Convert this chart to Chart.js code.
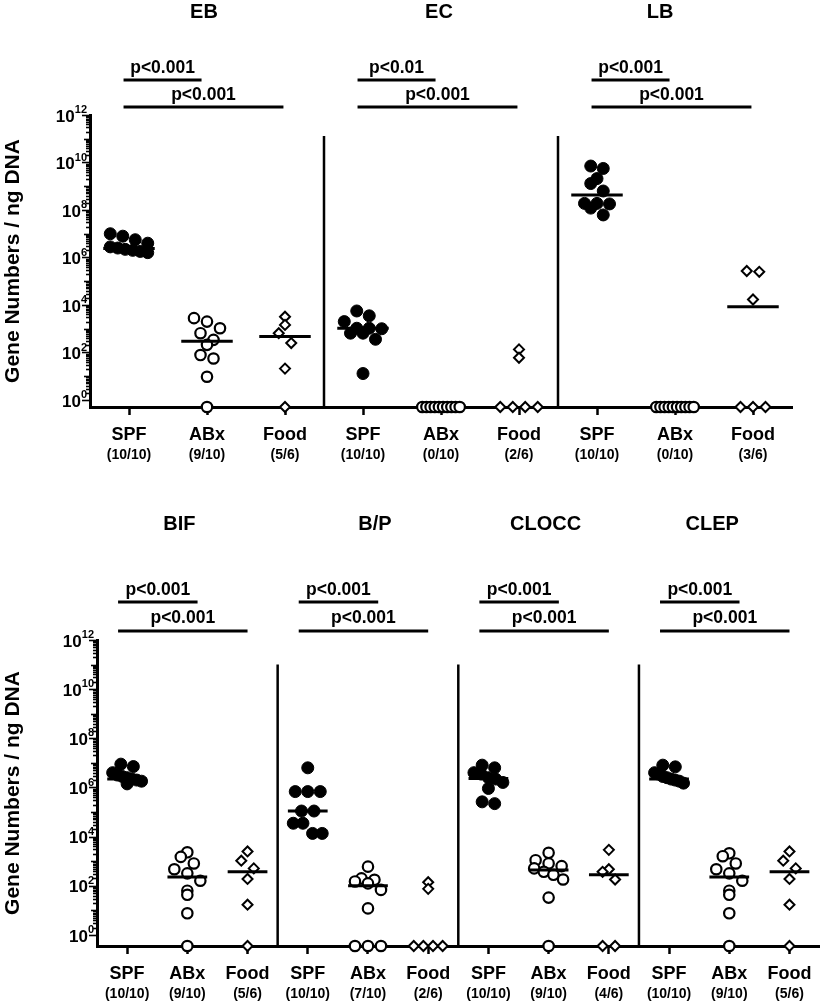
<!DOCTYPE html>
<html>
<head>
<meta charset="utf-8">
<script src="https://cdn.jsdelivr.net/npm/chart.js@4.4.0/dist/chart.umd.min.js"></script>
<style>
  html, body { margin: 0; padding: 0; background: #fff; }
  #wrap { position: relative; width: 827px; height: 1006px; }
  .row { position: absolute; left: 0; width: 827px; }
  #rowTop { top: 0; height: 470px; }
  #rowBottom { top: 500px; height: 506px; }
</style>
</head>
<body>
<div id="wrap">
  <div class="row" id="rowTop"><canvas id="chartTop"></canvas></div>
  <div class="row" id="rowBottom"><canvas id="chartBottom"></canvas></div>
</div>
<script>
// gene numbers / ng DNA; 0 = not detected (drawn on the axis)
const groups = ['SPF', 'ABx', 'Food'];

const ebSPF  = [1.0e7, 7.9e6, 5.6e6, 4.0e6, 2.8e6, 2.5e6, 2.2e6, 2.0e6, 1.8e6, 1.6e6];
const ebABx  = [2800, 2000, 1050, 650, 340, 210, 78, 56, 9.5, 0];
const ebFood = [3200, 1450, 650, 250, 21, 0];
const ebMedian = [2.4e6, 300, 470];

const ecSPF  = [5600, 3500, 2000, 1050, 1050, 1000, 650, 650, 360, 13];
const ecABx  = [0, 0, 0, 0, 0, 0, 0, 0, 0, 0];
const ecFood = [135, 60, 0, 0, 0, 0];
const ecMedian = [1050, null, null];

const lbSPF  = [7.1e9, 5.6e9, 2.1e9, 1.3e9, 6.3e8, 1.9e8, 1.9e8, 1.8e8, 1.2e8, 6.2e7];
const lbABx  = [0, 0, 0, 0, 0, 0, 0, 0, 0, 0];
const lbFood = [2.7e5, 2.5e5, 1.7e4, 0, 0, 0];
const lbMedian = [4.3e8, null, 8500];

const bifSPF  = [8.9e6, 7.1e6, 4.0e6, 3.2e6, 2.8e6, 2.5e6, 2.2e6, 2.0e6, 1.8e6, 1.4e6];
const bifABx  = [2300, 1500, 810, 470, 320, 160, 63, 43, 7.6, 0];
const bifFood = [2500, 1050, 510, 190, 17, 0];
const bifMedian = [2.2e6, 230, 370];

const bpSPF  = [6.3e6, 6.8e5, 6.8e5, 6.8e5, 1.1e5, 1.1e5, 3.5e4, 3.5e4, 1.35e4, 1.35e4];
const bpABx  = [600, 200, 175, 150, 125, 68, 12, 0, 0, 0];
const bpFood = [140, 75, 0, 0, 0, 0];
const bpMedian = [1.1e5, 100, null];

const cloccSPF  = [8.1e6, 6.3e6, 4.0e6, 3.5e6, 2.5e6, 2.2e6, 1.6e6, 9.1e5, 2.6e5, 2.2e5];
const cloccABx  = [2200, 1100, 810, 630, 510, 370, 280, 180, 33, 0];
const cloccFood = [2900, 470, 370, 180, 0, 0];
const cloccMedian = [2.3e6, 440, 280];

const clepSPF  = [8.1e6, 6.9e6, 4.0e6, 3.5e6, 2.8e6, 2.5e6, 2.2e6, 2.0e6, 1.8e6, 1.5e6];
const clepABx  = [2100, 1600, 810, 470, 320, 160, 63, 43, 7.6, 0];
const clepFood = [2500, 1050, 510, 190, 17, 0];
const clepMedian = [2.2e6, 230, 370];

const ebCounts    = ['(10/10)', '(9/10)', '(5/6)'];
const ecCounts    = ['(10/10)', '(0/10)', '(2/6)'];
const lbCounts    = ['(10/10)', '(0/10)', '(3/6)'];
const bifCounts   = ['(10/10)', '(9/10)', '(5/6)'];
const bpCounts    = ['(10/10)', '(7/10)', '(2/6)'];
const cloccCounts = ['(10/10)', '(9/10)', '(4/6)'];
const clepCounts  = ['(10/10)', '(9/10)', '(5/6)'];

// [SPF vs ABx, SPF vs Food]
const ebP = ['p<0.001', 'p<0.001'];
const ecP = ['p<0.01', 'p<0.001'];
const lbP = ['p<0.001', 'p<0.001'];
const bifP = ['p<0.001', 'p<0.001'];
const bpP = ['p<0.001', 'p<0.001'];
const cloccP = ['p<0.001', 'p<0.001'];
const clepP = ['p<0.001', 'p<0.001'];

const topPanels = [
    { title: 'EB', values: [ebSPF, ebABx, ebFood], medians: ebMedian, counts: ebCounts, p: ebP },
    { title: 'EC', values: [ecSPF, ecABx, ecFood], medians: ecMedian, counts: ecCounts, p: ecP },
    { title: 'LB', values: [lbSPF, lbABx, lbFood], medians: lbMedian, counts: lbCounts, p: lbP }
];
const bottomPanels = [
    { title: 'BIF', values: [bifSPF, bifABx, bifFood], medians: bifMedian, counts: bifCounts, p: bifP },
    { title: 'B/P', values: [bpSPF, bpABx, bpFood], medians: bpMedian, counts: bpCounts, p: bpP },
    { title: 'CLOCC', values: [cloccSPF, cloccABx, cloccFood], medians: cloccMedian, counts: cloccCounts, p: cloccP },
    { title: 'CLEP', values: [clepSPF, clepABx, clepFood], medians: clepMedian, counts: clepCounts, p: clepP }
];

Chart.defaults.font.family = '"Liberation Sans", Arial, sans-serif';
Chart.defaults.color = '#000';

const markers = [
    { pointStyle: 'circle', pointRadius: 6, backgroundColor: '#000', borderColor: '#000', borderWidth: 1, dot: 12.5 },
    { pointStyle: 'circle', pointRadius: 5.2, backgroundColor: '#fff', borderColor: '#000', borderWidth: 2.2, dot: 13 },
    { pointStyle: 'rectRot', pointRadius: 5, backgroundColor: '#fff', borderColor: '#000', borderWidth: 2, dot: 12.5 }
];

const rows = [
    { canvas: 'chartTop', panels: topPanels, yMin: Math.pow(10, -0.295), sepTop: 1.3e11, axisW: 90,
      pad: { left: 0, right: 35, top: 115, bottom: 8 },
      titleY: -103, p1Y: -47, bar1Y: -35, p2Y: -20, bar2Y: -8,
      bar1: [-0.07, -0.07], bar2: [-0.07, -0.02], titleDx: [-3, -2, -15] },
    { canvas: 'chartBottom', panels: bottomPanels, yMin: Math.pow(10, -0.45), sepTop: 1e11, axisW: 97,
      pad: { left: 0, right: 2, top: 140, bottom: 5 },
      titleY: -116, p1Y: -50, bar1Y: -38, p2Y: -22, bar2Y: -9,
      bar1: [-0.15, 0.17], bar2: [-0.15, 0], titleDx: [-8, 7, -3, -17] }
];

const decor = {
    id: 'decor',
    afterDraw(chart, args, opts) {
        const cfg = opts.cfg;
        const { ctx, chartArea } = chart;
        const x = chart.scales.x, y = chart.scales.y;
        ctx.save();
        ctx.fillStyle = '#000';
        ctx.strokeStyle = '#000';

        // log ticks on the y axis
        ctx.lineWidth = 1.6;
        for (let e = 0; e <= 12; e++) {
            for (let k = 1; k <= 9; k++) {
                const v = k * Math.pow(10, e);
                if (v > 1.0001e12) break;
                const py = Math.round(y.getPixelForValue(v)) + 0.5;
                const len = k === 1 ? (e % 2 === 0 ? 8 : 6) : 4;
                ctx.beginPath();
                ctx.moveTo(chartArea.left - len, py);
                ctx.lineTo(chartArea.left, py);
                ctx.stroke();
            }
        }
        ctx.textBaseline = 'middle';
        ctx.textAlign = 'right';
        for (let e = 0; e <= 12; e += 2) {
            const py = y.getPixelForValue(Math.pow(10, e));
            const right = chartArea.left - 3;
            ctx.font = 'bold 11px "Liberation Sans"';
            const sw = ctx.measureText(String(e)).width;
            ctx.fillText(String(e), right, py - 5);
            ctx.font = 'bold 17px "Liberation Sans"';
            ctx.fillText('10', right - sw, py + 2);
        }

        // panel titles and significance bars
        ctx.textAlign = 'center';
        const top = chartArea.top;
        cfg.panels.forEach((p, pi) => {
            const c = pi * 3 + 0.5;
            ctx.font = 'bold 20px "Liberation Sans"';
            ctx.fillText(p.title, x.getPixelForValue(c + 1) + cfg.titleDx[pi], top + cfg.titleY);

            ctx.lineWidth = 3;
            const a1 = x.getPixelForValue(c + cfg.bar1[0]);
            const b1 = x.getPixelForValue(c + 1 + cfg.bar1[1]);
            const a2 = x.getPixelForValue(c + cfg.bar2[0]);
            const b2 = x.getPixelForValue(c + 2 + cfg.bar2[1]);
            ctx.beginPath();
            ctx.moveTo(a1, top + cfg.bar1Y); ctx.lineTo(b1, top + cfg.bar1Y);
            ctx.moveTo(a2, top + cfg.bar2Y); ctx.lineTo(b2, top + cfg.bar2Y);
            ctx.stroke();
            ctx.font = 'bold 17.5px "Liberation Sans"';
            ctx.fillText(p.p[0], (a1 + b1) / 2, top + cfg.p1Y);
            ctx.fillText(p.p[1], (a2 + b2) / 2, top + cfg.p2Y);
        });
        ctx.restore();
    }
};

// spread points sideways: points falling in the same band of one symbol height
// share a row, laid out in slots (narrowed when the row gets too wide)
function swarm(chart, cfg) {
    const xs = chart.scales.x, ys = chart.scales.y;
    const unit = xs.getPixelForValue(1) - xs.getPixelForValue(0);
    const bottom = chart.chartArea.bottom;
    chart.data.datasets.forEach(ds => {
        if (!ds.isGroup) return;
        const D = ds.dot;
        const bins = new Map();
        ds.raw.forEach((v, i) => {
            const key = v > 0 ? Math.floor((bottom - ys.getPixelForValue(v)) / D) : -1;
            if (!bins.has(key)) bins.set(key, []);
            bins.get(key).push(i);
        });
        bins.forEach(idx => {
            const n = idx.length;
            const step = n > 1 ? Math.min(D, 0.48 * unit / (n - 1)) : 0;
            idx.forEach((i, k) => {
                ds.data[i].x = ds.center + (k - (n - 1) / 2) * step / unit;
            });
        });
    });
    chart.update('none');
}

function buildRow(cfg) {
    const nCat = cfg.panels.length * 3;
    const centers = [];
    const xLabels = [];
    const countLabels = [];
    const datasets = [];

    cfg.panels.forEach((p, pi) => {
        groups.forEach((g, gi) => {
            const cx = pi * 3 + gi + 0.5;
            centers.push(cx);
            xLabels.push(g);
            countLabels.push(p.counts[gi]);
            const m = markers[gi];
            datasets.push({
                type: 'scatter', order: 2, clip: false,
                isGroup: true, center: cx, raw: p.values[gi], dot: m.dot,
                data: p.values[gi].map(v => ({ x: cx, y: v > 0 ? v : cfg.yMin })),
                pointStyle: m.pointStyle, pointRadius: m.pointRadius,
                backgroundColor: m.backgroundColor, borderColor: m.borderColor, borderWidth: m.borderWidth
            });
            const med = p.medians[gi];
            if (med != null) {
                datasets.push({
                    type: 'line', order: 1, clip: false,
                    data: [{ x: cx - 0.33, y: med }, { x: cx + 0.33, y: med }],
                    borderColor: '#000', borderWidth: 3, pointRadius: 0
                });
            }
        });
        if (pi > 0) {
            datasets.push({
                type: 'line', order: 1, clip: false,
                data: [{ x: pi * 3, y: cfg.yMin }, { x: pi * 3, y: cfg.sepTop }],
                borderColor: '#000', borderWidth: 2.5, pointRadius: 0
            });
        }
    });

    const setTicks = s => { s.ticks = centers.map(v => ({ value: v })); };

    const chart = new Chart(document.getElementById(cfg.canvas), {
        type: 'scatter',
        data: { datasets },
        plugins: [decor],
        options: {
            responsive: true,
            maintainAspectRatio: false,
            animation: false,
            events: [],
            layout: { padding: cfg.pad },
            plugins: {
                legend: { display: false },
                tooltip: { enabled: false },
                decor: { cfg }
            },
            scales: {
                x: {
                    type: 'linear', position: 'bottom', min: 0, max: nCat, weight: 0,
                    afterBuildTicks: setTicks,
                    afterFit: s => { s.height = 35; },
                    ticks: {
                        autoSkip: false, maxRotation: 0, padding: 9, color: '#000',
                        font: { size: 18, weight: 'bold' },
                        callback: (v, i) => xLabels[i]
                    },
                    grid: { drawOnChartArea: false, drawTicks: true, tickLength: 8, tickWidth: 2.5, tickColor: '#000' },
                    border: { display: true, width: 3, color: '#000' }
                },
                x2: {
                    type: 'linear', position: 'bottom', min: 0, max: nCat, weight: 1,
                    afterBuildTicks: setTicks,
                    afterFit: s => { s.height = 20; },
                    ticks: {
                        autoSkip: false, maxRotation: 0, padding: 5, color: '#000',
                        font: { size: 14, weight: 'bold' },
                        callback: (v, i) => countLabels[i]
                    },
                    grid: { display: false, drawTicks: false },
                    border: { display: false }
                },
                y: {
                    type: 'logarithmic', min: cfg.yMin, max: 1e12,
                    afterFit: s => { s.width = cfg.axisW; },
                    ticks: { display: false },
                    grid: { display: false },
                    border: { display: true, width: 3, color: '#000' },
                    title: {
                        display: true, text: 'Gene Numbers / ng DNA', color: '#000',
                        font: { size: 21, weight: 'bold' }, padding: { top: 1, bottom: 0 }
                    }
                }
            }
        }
    });
    swarm(chart, cfg);
    return chart;
}

rows.forEach(buildRow);
</script>
</body>
</html>
